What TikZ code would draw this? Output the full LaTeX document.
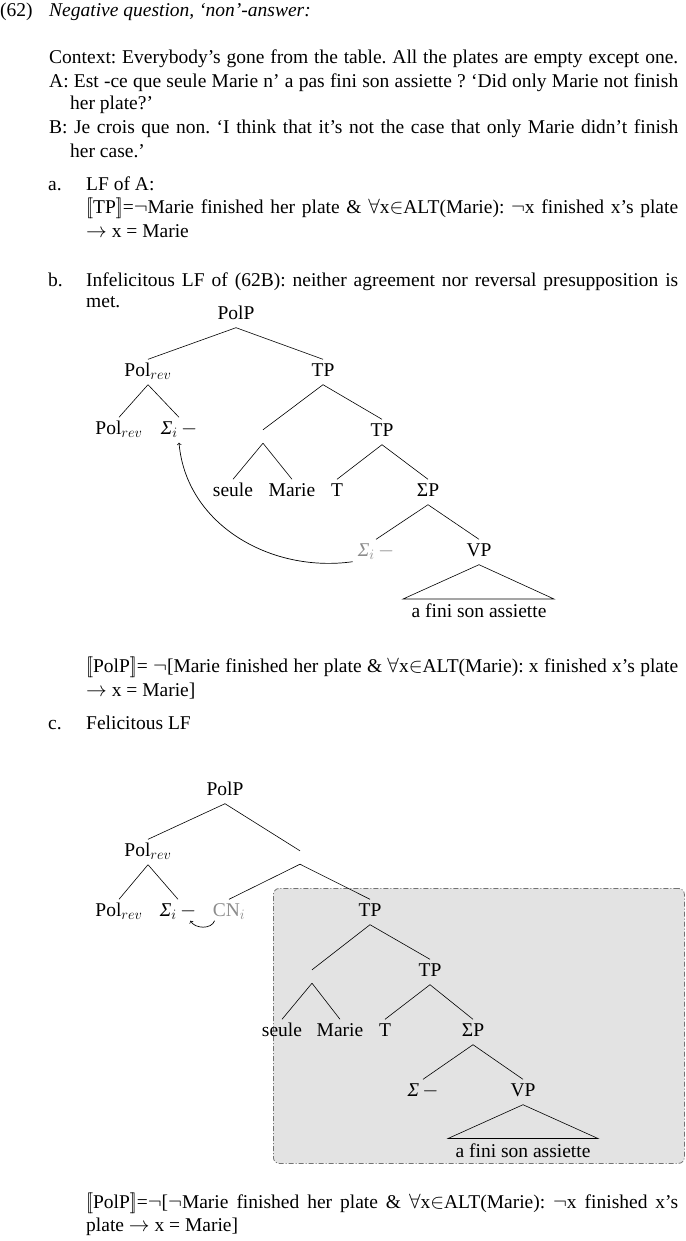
\documentclass[tikz,border=0pt]{standalone}
\usepackage{fontspec}
\setmainfont{Liberation Serif}
\usetikzlibrary{calc}
\frenchspacing
\begin{document}
\begin{tikzpicture}[x=1pt,y=-1pt,
  every node/.style={font=\fontsize{19.5}{23}\selectfont},
  tx/.style={anchor=base west, inner sep=0pt},
  tn/.style={inner xsep=1pt, inner ysep=5pt, text height=12pt, text depth=3pt},
  en/.style={inner sep=0pt, minimum size=13pt},
  gr/.style={text=black!45},
  br/.style={line width=0.6pt},
  mv/.style={->, line width=0.7pt, >=to},
  hl/.style={fill=black!11, draw=black!55, line width=0.8pt, rounded corners=6pt,
    dash pattern=on 5pt off 2pt on 1pt off 2pt}]

\useasboundingbox (0,0) rectangle (685,1241);

% ---------- text ----------
\node[tx] (n62) at (0,17) {(62)};
\node[tx] (title) at (49,17) {\textit{Negative question, ‘non’-answer:}};
\node[tx] (ctx) at (49,64) {\makebox[629pt][s]{Context: Everybody’s gone from the table. All the plates are empty except one.}};
\node[tx] (lA) at (49,88) {\makebox[629pt][s]{A: Est -ce que seule Marie n’ a pas fini son assiette ? ‘Did only Marie not finish}};
\node[tx] (lA2) at (70,110) {her plate?’};
\node[tx] (lB) at (49,134) {\makebox[629pt][s]{B: Je crois que non. ‘I think that it’s not the case that only Marie didn’t finish}};
\node[tx] (lB2) at (70,158) {her case.’};
\node[tx] (ia) at (48,191) {a.};
\node[tx] (ia1) at (86,191) {LF of A:};
\node[tx] (ia2) at (86,214) {\makebox[592pt][s]{$[\![$TP$]\!]$=$\neg$Marie finished her plate \& $\forall$x$\in$ALT(Marie): $\neg$x finished x’s plate}};
\node[tx] (ia3) at (86,238) {$\rightarrow$ x = Marie};
\node[tx] (ib) at (48,286) {b.};
\node[tx] (ib1) at (86,286) {\makebox[592pt][s]{Infelicitous LF of (62B): neither agreement nor reversal presupposition is}};
\node[tx] (ib2) at (86,307) {met.};
\node[tx] (pb1) at (86,672) {\makebox[592pt][s]{$[\![$PolP$]\!]$= $\neg$[Marie finished her plate \& $\forall$x$\in$ALT(Marie): x finished x’s plate}};
\node[tx] (pb2) at (86,696) {$\rightarrow$ x = Marie]};
\node[tx] (ic) at (48,729) {c.};
\node[tx] (ic1) at (86,729) {Felicitous LF};
\node[tx] (pc1) at (86,1208) {\makebox[592pt][s]{$[\![$PolP$]\!]$=$\neg$[$\neg$Marie finished her plate \& $\forall$x$\in$ALT(Marie): $\neg$x finished x’s}};
\node[tx] (pc2) at (86,1231) {plate $\rightarrow$ x = Marie]};

% ---------- tree b ----------
\node[tn] (bPolP) at (236,315) {PolP};
\node[tn] (bPr) at (148,372) {Pol$_{rev}$};
\node[tn] (bTP) at (323,372) {TP};
\node[tn] (bPr2) at (119,430) {Pol$_{rev}$};
\node[tn] (bSi) at (179,430) {\textit{Σ}$_i$\,$-$};
\node[en] (bE) at (263,436.5) {};
\node[tn] (bTP2) at (382,432) {TP};
\node[tn] (bseule) at (233,492) {seule};
\node[tn] (bMarie) at (292,492) {Marie};
\node[tn] (bT) at (337,492) {T};
\node[tn] (bSP) at (428,492) {ΣP};
\node[tn,gr] (bgS) at (376,552) {\textit{Σ}$_i$\,$-$};
\node[tn] (bVP) at (479,552) {VP};
\node[tx, anchor=base] (bafini) at (479,617) {a fini son assiette};
\coordinate (bbl) at (403,599);
\coordinate (bbr) at (554,599);

\draw[br] (bPolP.south) -- (bPr.north);
\draw[br] (bPolP.south) -- (bTP.north);
\draw[br] (bPr.south) -- (bPr2.north);
\draw[br] (bPr.south) -- (bSi.north);
\draw[br] (bTP.south) -- (bE.north);
\draw[br] (bTP.south) -- (bTP2.north);
\draw[br] (bE.south) -- (bseule.north);
\draw[br] (bE.south) -- (bMarie.north);
\draw[br] (bTP2.south) -- (bT.north);
\draw[br] (bTP2.south) -- (bSP.north);
\draw[br] (bSP.south) -- (bgS.north);
\draw[br] (bSP.south) -- (bVP.north);
\draw[br] (bVP.south) -- (bbl) -- (bbr) -- cycle;
\draw[mv] ($(bgS.south west)+(-4,-3)$) to[out=188, in=-85] (bSi.south);

% ---------- tree c ----------
\node[hl, minimum width=411pt, minimum height=275pt, anchor=north west] (box) at (273,888) {};

\node[tn] (cPolP) at (225,791) {PolP};
\node[tn] (cPr) at (148,852) {Pol$_{rev}$};
\node[en] (cE) at (300,857.5) {};
\node[tn] (cPr2) at (119,912) {Pol$_{rev}$};
\node[tn] (cSi) at (178,912) {\textit{Σ}$_i$\,$-$};
\node[tn,gr] (cCN) at (229,912) {CN$_i$};
\node[tn] (cTP) at (370,912) {TP};
\node[en] (cE2) at (312,976.5) {};
\node[tn] (cTP2) at (430,972) {TP};
\node[tn] (cseule) at (282,1032) {seule};
\node[tn] (cMarie) at (340,1032) {Marie};
\node[tn] (cT) at (385,1032) {T};
\node[tn] (cSP) at (473,1032) {ΣP};
\node[tn] (cS) at (423,1092) {\textit{Σ}\,$-$};
\node[tn] (cVP) at (523,1092) {VP};
\node[tx, anchor=base] (cafini) at (523,1157) {a fini son assiette};
\coordinate (cbl) at (448,1138.5);
\coordinate (cbr) at (598,1138.5);

\draw[br] (cPolP.south) -- (cPr.north);
\draw[br] (cPolP.south) -- (cE.north);
\draw[br] (cPr.south) -- (cPr2.north);
\draw[br] (cPr.south) -- (cSi.north);
\draw[br] (cE.south) -- (cCN.north);
\draw[br] (cE.south) -- (cTP.north);
\draw[br] (cTP.south) -- (cE2.north);
\draw[br] (cTP.south) -- (cTP2.north);
\draw[br] (cE2.south) -- (cseule.north);
\draw[br] (cE2.south) -- (cMarie.north);
\draw[br] (cTP2.south) -- (cT.north);
\draw[br] (cTP2.south) -- (cSP.north);
\draw[br] (cSP.south) -- (cS.north);
\draw[br] (cSP.south) -- (cVP.north);
\draw[br] (cVP.south) -- (cbl) -- (cbr) -- cycle;
\draw[mv] ($(cCN.south west)+(3,-4)$) to[out=-110, in=-60] ($(cSi.south east)+(-7,-4)$);
\end{tikzpicture}
\end{document}
